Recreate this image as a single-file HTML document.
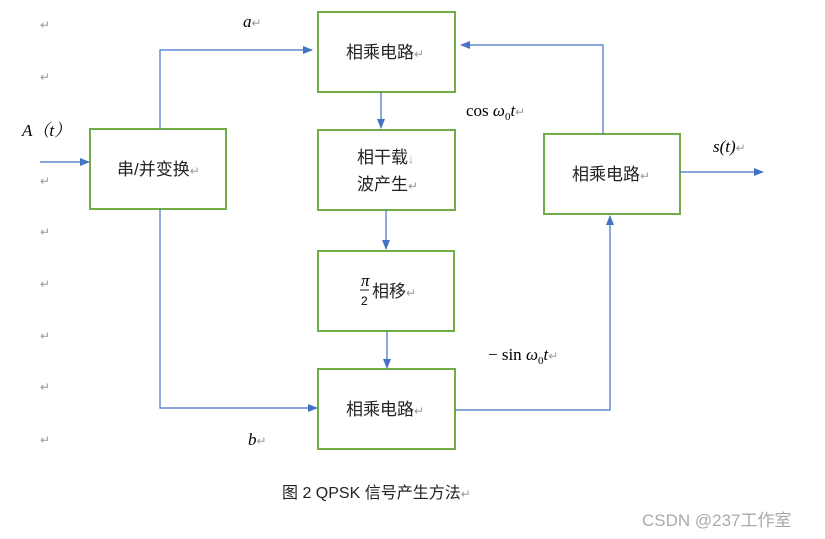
<!DOCTYPE html><html><head><meta charset="utf-8"><style>body{margin:0;background:#fff}svg{display:block}text{font-family:"Liberation Sans","Noto Sans CJK SC",sans-serif}.r{fill:#999;font-size:12px}.m{font-family:"Liberation Serif",serif;font-style:italic;font-size:17px}</style></head><body>
<svg width="825" height="539" viewBox="0 0 825 539">
<defs><marker id="a" markerWidth="10" markerHeight="8" refX="9" refY="4" orient="auto" markerUnits="userSpaceOnUse"><path d="M0,0L10,4L0,8z" fill="#4472c4"/></marker></defs>
<g fill="none" stroke="#70ad47" stroke-width="2">
<rect x="90" y="129" width="136" height="80"/>
<rect x="318" y="12" width="137" height="80"/>
<rect x="318" y="130" width="137" height="80"/>
<rect x="318" y="251" width="136" height="80"/>
<rect x="318" y="369" width="137" height="80"/>
<rect x="544" y="134" width="136" height="80"/>
</g>
<g fill="none" stroke="#4472c4" stroke-width="1.2" marker-end="url(#a)">
<path d="M40,162H89"/>
<path d="M160,129V50H312"/>
<path d="M160,209V408H317"/>
<path d="M381,92V128"/>
<path d="M386,210V249"/>
<path d="M387,331V368"/>
<path d="M455,410H610V216"/>
<path d="M603,134V45H461"/>
<path d="M680,172H763"/>
</g>
<g font-size="17" fill="#222">
<text x="117" y="175">串/并变换<tspan class="r">↵</tspan></text>
<text x="346" y="58">相乘电路<tspan class="r">↵</tspan></text>
<text x="357" y="163">相干载<tspan class="r">↓</tspan></text>
<text x="357" y="190">波产生<tspan class="r">↵</tspan></text>
<text x="372" y="297">相移<tspan class="r">↵</tspan></text>
<text x="346" y="415">相乘电路<tspan class="r">↵</tspan></text>
<text x="572" y="180">相乘电路<tspan class="r">↵</tspan></text>
<text x="282" y="498" font-size="16">图 2 QPSK 信号产生方法<tspan class="r">↵</tspan></text>
</g>
<text x="361" y="286" font-size="11" class="m">π</text>
<line x1="360" y1="290" x2="369" y2="290" stroke="#222"/>
<text x="361" y="305" font-size="12">2</text>
<text x="243" y="27" class="m">a<tspan class="r" style="font-style:normal">↵</tspan></text>
<text x="248" y="445" class="m">b<tspan class="r" style="font-style:normal">↵</tspan></text>
<text x="22" y="136" style="font-family:'Liberation Serif','Noto Serif CJK SC',serif;font-style:italic;font-size:17px">A（t）</text>
<text x="466" y="116" style="font-family:'Liberation Serif',serif;font-size:17px">cos <tspan font-style="italic">ω</tspan><tspan font-size="11" dy="4">0</tspan><tspan font-style="italic" dy="-4">t</tspan><tspan class="r">↵</tspan></text>
<text x="488" y="360" style="font-family:'Liberation Serif',serif;font-size:17px">− sin <tspan font-style="italic">ω</tspan><tspan font-size="11" dy="4">0</tspan><tspan font-style="italic" dy="-4">t</tspan><tspan class="r">↵</tspan></text>
<text x="713" y="152" class="m">s(t)<tspan class="r" style="font-style:normal">↵</tspan></text>
<g class="r"><text x="40" y="29">↵</text><text x="40" y="81">↵</text><text x="40" y="185">↵</text><text x="40" y="236">↵</text><text x="40" y="288">↵</text><text x="40" y="340">↵</text><text x="40" y="391">↵</text><text x="40" y="444">↵</text></g>
<text x="642" y="526" font-size="17" fill="#aaa">CSDN @237工作室</text>
</svg></body></html>
